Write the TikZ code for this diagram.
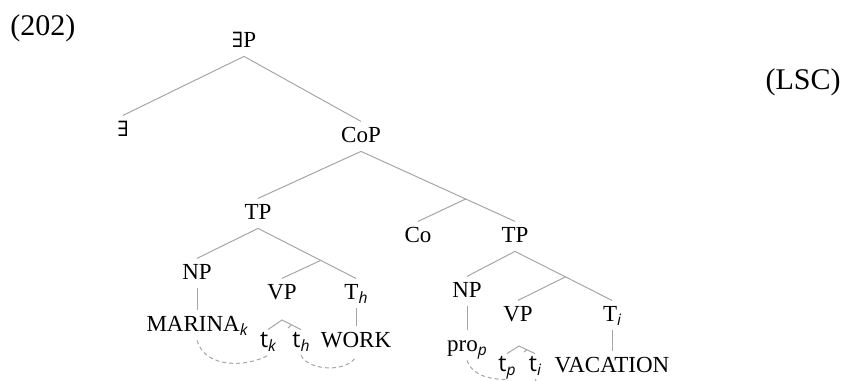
\documentclass[tikz,border=0pt]{standalone}
\usepackage{fontspec}
\setmainfont{Liberation Serif}
\newfontfamily\tsans{Open Sans}
\newfontfamily\dvserif{DejaVu Serif}
\usetikzlibrary{positioning}
\newcommand{\ix}[1]{\raisebox{-0.3ex}{\tsans\itshape\fontsize{7.8}{8}\selectfont #1}}
\newcommand{\tr}[1]{{\tsans t}\ix{#1}}
\newcommand{\ex}{{\dvserif\fontsize{10.5}{12}\selectfont ∃}}

\begin{document}
\begin{tikzpicture}[x=0.5pt, y=0.5pt, every node/.style={font=\fontsize{11.5}{13}\selectfont}]
    \tikzstyle{cat} = [inner xsep=1pt, inner ysep=4pt, text height=0.66em, text depth=0pt, anchor=base]
    \tikzstyle{trc} = [cat, inner ysep=3.5pt, text height=0.55em]
    \tikzstyle{tag} = [inner sep=0pt, font=\fontsize{15}{17}\selectfont]
    \tikzstyle{branch} = [draw=gray!70, line width=0.5pt]
    \tikzstyle{link} = [draw=gray!70, line width=0.5pt, dash pattern=on 2pt off 1.5pt]
    \path[use as bounding box] (0,0) rectangle (843,381);
    \clip (0,0) rectangle (843,381);

    \node (num) [tag, anchor=base west] at (10,345) {(202)};
    \node (lsc) [tag, anchor=base east] at (841,291) {(LSC)};

    % upper part
    \node (ep) [cat] at (244,333) {\ex P};
    \node (exq) [cat] at (123,244) {\ex};
    \node (cop) [cat] at (361,238) {CoP};
    \node (tp1) [cat] at (258,161) {TP};
    \node (co) [cat] at (418,138) {Co};
    \node (tp2) [cat] at (515,138) {TP};

    % left clause
    \node (np1) [cat] at (197,101) {NP};
    \node (vp1) [cat] at (282,81) {VP};
    \node (th1) [cat] at (356,81) {T\ix{h}};
    \node (marina) [cat] at (197,49) {MARINA\ix{k}};
    \node (tk) [trc] at (268,33) {\tr{k}};
    \node (th) [trc] at (301,33) {\tr{h}};
    \node (work) [cat] at (356,33) {WORK};

    % right clause
    \node (np2) [cat] at (467,83) {NP};
    \node (vp2) [cat] at (518,59) {VP};
    \node (ti) [cat] at (612,59) {T\ix{i}};
    \node (pro) [cat] at (467,29) {pro\ix{p}};
    \node (tp) [trc] at (507,9) {\tr{p}};
    \node (tii) [trc] at (535,9) {\tr{i}};
    \node (vac) [cat] at (612,8) {VACATION};

    \draw [branch] (ep.south) -- (exq.north);
    \draw [branch] (ep.south) -- (cop.north);
    \draw [branch] (cop.south) -- (tp1.north);
    \draw [branch] (cop.south) -- coordinate[pos=0.68] (jco) (tp2.north);
    \draw [branch] (jco) -- (co.north);

    \draw [branch] (tp1.south) -- (np1.north);
    \draw [branch] (tp1.south) -- coordinate[pos=0.64] (jvp1) (th1.north);
    \draw [branch] (jvp1) -- (vp1.north);
    \draw [branch] (np1.south) -- (marina.north);
    \draw [branch] (th1.south) -- (work.north);

    \draw [branch] (tp2.south) -- (np2.north);
    \draw [branch] (tp2.south) -- coordinate[pos=0.52] (jvp2) (ti.north);
    \draw [branch] (jvp2) -- (vp2.north);
    \draw [branch] (np2.south) -- (pro.north);
    \draw [branch] (ti.south) -- (vac.north);

    % small hats over the traces
    \coordinate (hat1) at (282,61);
    \coordinate (hk1) at (288,53);
    \draw [branch] (tk.north) -- (hat1) -- coordinate[pos=0.5] (hj1) (th.north);
    \draw [branch] (hj1) -- (hk1);
    \coordinate (hat2) at (519,35);
    \coordinate (hk2) at (524,29);
    \draw [branch] (tp.north) -- (hat2) -- coordinate[pos=0.5] (hj2) (tii.north);
    \draw [branch] (hj2) -- (hk2);

    % dashed links
    \draw [link] (marina.south) .. controls +(8,-28) and +(-22,-12) .. (tk.south);
    \draw [link] (th.south) .. controls +(8,-16) and +(-8,-16) .. (work.south);
    \draw [link] (pro.south) .. controls +(6,-16) and +(-16,0) .. (tp.south);
    \draw [link] (tii.south) .. controls +(12,-22) and +(-12,-22) .. (vac.south);
\end{tikzpicture}
\end{document}
